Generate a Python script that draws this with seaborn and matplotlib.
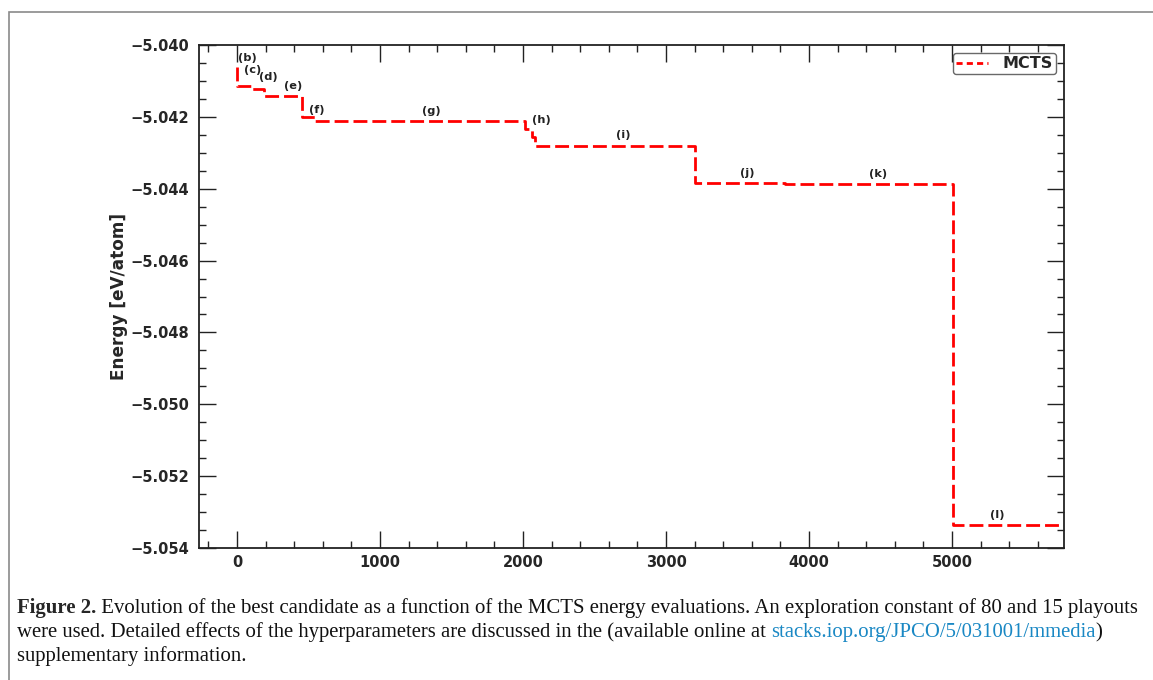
import matplotlib
matplotlib.use("Agg")
import matplotlib.pyplot as plt
import seaborn as sns
import pandas as pd
from matplotlib.patches import Rectangle
from matplotlib.ticker import MultipleLocator, FuncFormatter

# ---- data ----
evaluations = [0, 0, 103, 190, 452, 545, 2014, 2061, 2084, 3203, 3832, 5010, 5800]
energy = [-5.04060, -5.04115, -5.04122, -5.04143, -5.04200, -5.04212,
          -5.04234, -5.04255, -5.04280, -5.04383, -5.04388, -5.05335, -5.05335]
series_name = "MCTS"

label_text = ["(b)", "(c)", "(d)", "(e)", "(f)", "(g)", "(h)", "(i)", "(j)", "(k)", "(l)"]
label_x = [70, 112, 217, 392, 560, 1357, 2126, 2700, 3566, 4483, 5315]
label_y = [-5.04035, -5.04070, -5.04090, -5.04113, -5.04180, -5.04184,
           -5.04210, -5.04250, -5.04355, -5.04360, -5.05307]

x_ticks = [0, 1000, 2000, 3000, 4000, 5000]
y_ticks = [-5.040, -5.042, -5.044, -5.046, -5.048, -5.050, -5.052, -5.054]

caption_bold = "Figure 2."
caption_l1 = (" Evolution of the best candidate as a function of the MCTS energy evaluations. "
              "An exploration constant of 80 and 15 playouts")
caption_l2a = "were used. Detailed effects of the hyperparameters are discussed in the (available online at "
caption_link = "stacks.iop.org/JPCO/5/031001/mmedia"
caption_l2b = ")"
caption_l3 = "supplementary information."

df = pd.DataFrame({"evaluations": evaluations, "energy": energy, "series": series_name})

sns.set_theme(style="ticks")
plt.rcParams["font.family"] = ["DejaVu Sans"]

W, H = 1153, 680
fig = plt.figure(figsize=(W / 100, H / 100), dpi=100)
ax = fig.add_axes([199 / W, 1 - 548 / H, (1064 - 199) / W, (548 - 45) / H])

sns.lineplot(data=df, x="evaluations", y="energy", hue="series", palette=["#ff0000"],
             estimator=None, sort=False, drawstyle="steps-post", ax=ax,
             linewidth=2.0, dashes=False)
for ln in ax.get_lines():
    ln.set_linestyle((0, (5.0, 1.8)))

for t, x, y in zip(label_text, label_x, label_y):
    ax.text(x, y, t, ha="center", va="center", fontsize=8.2, fontweight="bold", color="#222222")

ax.set_xlim(-266, 5783)
ax.set_ylim(-5.054, -5.040)
ax.set_xticks(x_ticks)
ax.set_yticks(y_ticks)
ax.xaxis.set_minor_locator(MultipleLocator(200))
ax.yaxis.set_minor_locator(MultipleLocator(0.0005))
ax.yaxis.set_major_formatter(FuncFormatter(lambda v, p: f"{v:.3f}".replace("-", "\u2212")))
ax.tick_params(which="both", direction="in", top=True, right=True, color="#222222")
ax.tick_params(which="major", length=12, width=1.0, labelsize=10.5, pad=5)
ax.tick_params(axis="y", which="major", pad=7)
ax.tick_params(which="minor", length=5, width=1.0)
for lab in ax.get_xticklabels() + ax.get_yticklabels():
    lab.set_fontweight("bold")
for sp in ax.spines.values():
    sp.set_color("#222222")
    sp.set_linewidth(1.3)

ax.set_xlabel("")
ax.set_ylabel("Energy [eV/atom]", fontsize=12.2, fontweight="bold")
ax.yaxis.set_label_coords(-0.082, 0.5)

leg = ax.legend(loc="upper right", fontsize=11.5, frameon=True, fancybox=True,
                handlelength=2.0, borderaxespad=0.5, borderpad=0.2, handletextpad=0.9,
                title=None)
for txt in leg.get_texts():
    txt.set_fontweight("bold")
leg.get_frame().set_edgecolor("#444444")
leg.get_frame().set_linewidth(1.0)
for h in leg.get_lines():
    h.set_linestyle((0, (2.2, 1.5)))

# outer frame of the figure panel
fig.add_artist(Rectangle((9 / W, -0.2), 1.5, 1.2 - 12 / H, transform=fig.transFigure,
                         fill=False, edgecolor="#8a8a8a", linewidth=1.2, clip_on=False))

# caption
cax = fig.add_axes([0, 0, 1, 1])
cax.set_axis_off()
cax.set_zorder(-1)
serif = ["Liberation Serif", "DejaVu Serif"]
fs = 12.0
t1 = cax.text(17 / W, 1 - 613 / H, caption_bold, fontsize=fs, fontweight="bold",
              family=serif, va="baseline", ha="left", transform=fig.transFigure)
t1b = cax.annotate(caption_l1, xycoords=t1, xy=(1, 0), va="bottom", ha="left",
                   fontsize=fs, family=serif, color="#111111")
t2 = cax.text(17 / W, 1 - 637 / H, caption_l2a, fontsize=fs, family=serif, va="baseline",
              ha="left", transform=fig.transFigure, color="#111111")
t2b = cax.annotate(caption_link, xycoords=t2, xy=(1, 0), va="bottom", ha="left",
                   fontsize=fs, family=serif, color="#1a88c4")
t2c = cax.annotate(caption_l2b, xycoords=t2b, xy=(1, 0), va="bottom", ha="left",
                   fontsize=fs, family=serif, color="#111111")
t3 = cax.text(17 / W, 1 - 661 / H, caption_l3, fontsize=fs, family=serif, va="baseline",
              ha="left", transform=fig.transFigure, color="#111111")
pieces = [t1, t1b, t2, t2b, t2c, t3]

# scale caption font so the first line spans the reference width
fig.canvas.draw()
r = fig.canvas.get_renderer()
right = t1b.get_window_extent(r).x1
scale = (1136 - 17) / (right - 17)
for p in pieces:
    p.set_fontsize(fs * scale)

fig.savefig("out.png", dpi=100)
